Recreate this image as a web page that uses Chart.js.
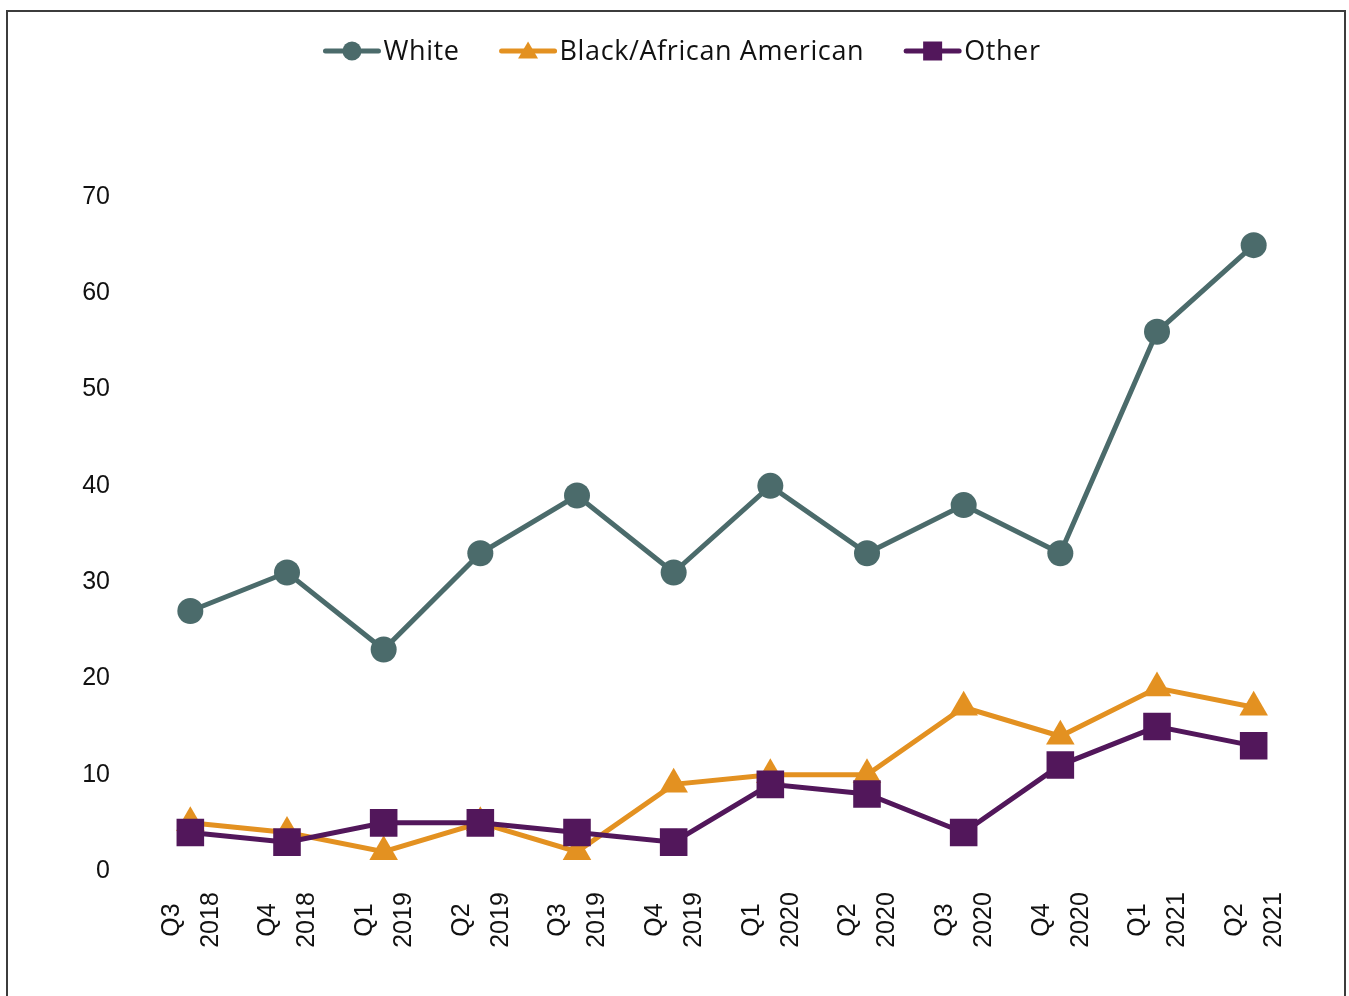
<!DOCTYPE html>
<html lang="en">
<head>
  <meta charset="UTF-8" />
  <title>Quarterly counts by race</title>
  <script src="https://cdn.jsdelivr.net/npm/chart.js"></script>
  <style>
    body {
      margin: 0;
      background: #fff;
    }
    #frame {
      position: absolute;
      left: 6px;
      top: 10px;
      width: 1336px;
      height: 1000px;
      border: 2px solid #3c3c3c;
    }
  </style>
</head>
<body>
  <div id="frame"><canvas id="raceChart"></canvas></div>

  <script>
    // data
    const quarters = ["Q3", "Q4", "Q1", "Q2", "Q3", "Q4", "Q1", "Q2", "Q3", "Q4", "Q1", "Q2"];
    const years = ["2018", "2018", "2019", "2019", "2019", "2019", "2020", "2020", "2020", "2020", "2021", "2021"];
    const white = [27, 31, 23, 33, 39, 31, 40, 33, 38, 33, 56, 65];
    const black = [5, 4, 2, 5, 2, 9, 10, 10, 17, 14, 19, 17];
    const other = [4, 3, 5, 5, 4, 3, 9, 8, 4, 11, 15, 13];
    const yTicks = [0, 10, 20, 30, 40, 50, 60, 70];

    const labels = quarters.map((q, i) => [q, years[i]]);

    const seriesInfo = [
      { name: "White", color: "#4b6b6b", style: "circle" },
      { name: "Black/African American", color: "#e39121", style: "triangle" },
      { name: "Other", color: "#52175b", style: "rect" }
    ];

    function marker(ctx, style, x, y, s) {
      ctx.beginPath();
      if (style === "circle") {
        ctx.arc(x, y, s, 0, Math.PI * 2);
      } else if (style === "triangle") {
        ctx.moveTo(x, y - s);
        ctx.lineTo(x + s * 1.05, y + s * 0.8);
        ctx.lineTo(x - s * 1.05, y + s * 0.8);
        ctx.closePath();
      } else {
        ctx.rect(x - s, y - s, 2 * s, 2 * s);
      }
      ctx.fill();
    }

    // legend with line + marker, and two-line x labels centred on the tick
    const decorations = {
      id: "decorations",
      afterDraw(chart) {
        const ctx = chart.ctx;
        ctx.save();

        ctx.font = "27px 'Open Sans', sans-serif";
        ctx.letterSpacing = "0.6px";
        const lineLen = 57, gapText = 3, gapItem = 40;
        const widths = seriesInfo.map(s => lineLen + gapText + ctx.measureText(s.name).width);
        const total = widths.reduce((a, b) => a + b, 0) + gapItem * (widths.length - 1);
        let x = (chart.width - total) / 2 + 6;
        const y = 39;
        seriesInfo.forEach((s, i) => {
          ctx.strokeStyle = s.color;
          ctx.fillStyle = s.color;
          ctx.lineWidth = 5;
          ctx.lineCap = "round";
          ctx.beginPath();
          ctx.moveTo(x + 2, y);
          ctx.lineTo(x + lineLen - 2, y);
          ctx.stroke();
          marker(ctx, s.style, x + lineLen / 2, y, 9.5);
          ctx.fillStyle = "#111";
          ctx.textAlign = "left";
          ctx.textBaseline = "middle";
          ctx.fillText(s.name, x + lineLen + gapText, y + 1);
          x += widths[i] + gapItem;
        });
        ctx.letterSpacing = "0px";

        const xs = chart.scales.x;
        ctx.font = "25px 'Liberation Sans', Arial, sans-serif";
        ctx.fillStyle = "#111";
        ctx.textAlign = "center";
        ctx.textBaseline = "middle";
        labels.forEach((lines, i) => {
          const px = xs.getPixelForValue(i);
          ctx.save();
          ctx.translate(px + 1, 908);
          ctx.rotate(-Math.PI / 2);
          ctx.fillText(lines[0], 0, -19.5);
          ctx.fillText(lines[1], 0, 19.5);
          ctx.restore();
        });
        ctx.restore();
      }
    };

    const seriesData = [white, black, other];
    const radii = [13, 16.5, 19.5];

    new Chart(document.getElementById("raceChart"), {
      type: "line",
      data: {
        labels,
        datasets: seriesInfo.map((s, i) => ({
          label: s.name,
          data: seriesData[i],
          borderColor: s.color,
          backgroundColor: s.color,
          borderWidth: 5,
          pointStyle: s.style,
          pointRadius: radii[i],
          pointHoverRadius: radii[i],
          pointBorderWidth: 0,
          order: 2 - i,
          tension: 0
        }))
      },
      options: {
        responsive: true,
        maintainAspectRatio: false,
        animation: false,
        layout: { padding: { top: 185, right: 42, left: 0, bottom: 0 } },
        plugins: {
          legend: { display: false },
          tooltip: { enabled: false }
        },
        scales: {
          x: {
            offset: true,
            grid: { display: false, drawTicks: false },
            border: { display: false },
            ticks: { color: "rgba(0,0,0,0)", maxRotation: 90, minRotation: 90, autoSkip: false },
            afterFit: s => { s.height = 141; }
          },
          y: {
            min: 0,
            max: 70,
            grid: { display: false, drawTicks: false },
            border: { display: false },
            afterBuildTicks: s => { s.ticks = yTicks.map(v => ({ value: v })); },
            ticks: {
              color: "#111",
              padding: 32,
              font: { family: "'Liberation Sans', Arial, sans-serif", size: 25 }
            },
            afterFit: s => { s.width = 134; }
          }
        }
      },
      plugins: [decorations]
    });
  </script>
</body>
</html>
